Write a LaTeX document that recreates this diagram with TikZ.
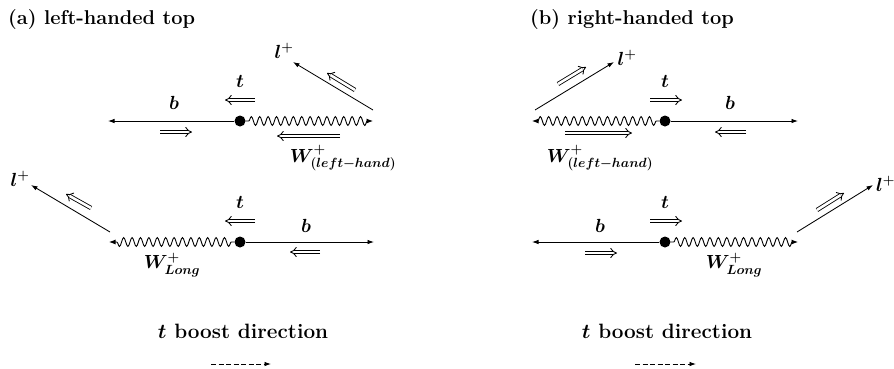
\documentclass[tikz,border=0pt]{standalone}
\usepackage{fix-cm}
\usetikzlibrary{arrows.meta,decorations.pathmorphing}
\begin{document}
\begin{tikzpicture}[x=1pt,y=-1pt,
  ttl/.style={font=\fontsize{20}{23}\selectfont\bfseries\boldmath, inner sep=0pt},
  txt/.style={font=\fontsize{20.74}{24}\selectfont\bfseries\boldmath, inner sep=0pt},
  lab/.style={font=\fontsize{19}{22}\selectfont\boldmath, inner sep=0pt},
  vtx/.style={circle, fill=black, inner sep=0pt, minimum size=11pt},
  mom/.style={line width=0.85pt, -{Latex[length=6.5pt,width=4.5pt]}},
  wav/.style={line width=0.9pt, decorate, decoration={snake, amplitude=4.4pt, segment length=8.4pt, pre length=3pt, post length=4pt}, -{Latex[length=6.5pt,width=5pt]}},
  hel/.style={double, double distance=2.6pt, line width=0.85pt, -{Implies}},
  boost/.style={dashed, dash pattern=on 5pt off 2.5pt, line width=0.85pt, -{Latex[length=6.5pt,width=4.5pt]}}]
\useasboundingbox (0,0) rectangle (894,368);

% ---------- titles ----------
\node[ttl, anchor=west] (ta) at (8,20) {(a) left-handed top};
\node[ttl, anchor=west] (tb) at (530,20) {(b) right-handed top};

% ========== panel (a), top row ==========
\node[vtx] (a1) at (240,121) {};
\coordinate (a1b) at (108,121);
\coordinate (a1w) at (373,121);
\coordinate (a1l) at (293,62);
\draw[mom] (a1) -- (a1b);
\draw[wav] (a1) -- (a1w);
\coordinate (a1s) at (373,110);
\draw[mom] (a1s) -- (a1l);
\node[lab] (a1lt) at (284,51) {$l^{+}$};
\node[lab] (a1t) at (240,81) {$t$};
\node[lab] (a1bt) at (174,103) {$b$};
\node[lab] (a1W) at (343,158) {$W^{+}_{(left-hand)}$};
\coordinate (h1a) at (255,100); \coordinate (h1b) at (225,100);
\draw[hel] (h1a) -- (h1b);
\coordinate (h2a) at (160,132); \coordinate (h2b) at (192,132);
\draw[hel] (h2a) -- (h2b);
\coordinate (h3a) at (340,136); \coordinate (h3b) at (277,136);
\draw[hel] (h3a) -- (h3b);
\coordinate (h4a) at (355,90); \coordinate (h4b) at (327,73);
\draw[hel] (h4a) -- (h4b);

% ========== panel (a), bottom row ==========
\node[vtx] (a2) at (240,242) {};
\coordinate (a2b) at (374,242);
\coordinate (a2w) at (109,242);
\coordinate (a2s) at (110,232);
\coordinate (a2l) at (31,185);
\draw[mom] (a2) -- (a2b);
\draw[wav] (a2) -- (a2w);
\draw[mom] (a2s) -- (a2l);
\node[lab] (a2lt) at (20,179) {$l^{+}$};
\node[lab] (a2t) at (240,202) {$t$};
\node[lab] (a2bt) at (306,226) {$b$};
\node[lab] (a2W) at (172,265) {$W^{+}_{Long}$};
\coordinate (h5a) at (255,221); \coordinate (h5b) at (225,221);
\draw[hel] (h5a) -- (h5b);
\coordinate (h6a) at (320,252); \coordinate (h6b) at (290,252);
\draw[hel] (h6a) -- (h6b);
\coordinate (h7a) at (91,208); \coordinate (h7b) at (66,194);
\draw[hel] (h7a) -- (h7b);

\node[txt] (ba) at (243,331) {$t$ boost direction};
\coordinate (da1) at (211,364); \coordinate (da2) at (271,364);
\draw[boost] (da1) -- (da2);

% ========== panel (b), top row ==========
\node[vtx] (b1) at (665,121) {};
\coordinate (b1b) at (798,121);
\coordinate (b1w) at (532,121);
\coordinate (b1s) at (535,110);
\coordinate (b1l) at (614,62);
\draw[mom] (b1) -- (b1b);
\draw[wav] (b1) -- (b1w);
\draw[mom] (b1s) -- (b1l);
\node[lab] (b1lt) at (627,58) {$l^{+}$};
\node[lab] (b1t) at (665,81) {$t$};
\node[lab] (b1bt) at (730,103) {$b$};
\node[lab] (b1W) at (600,158) {$W^{+}_{(left-hand)}$};
\coordinate (h8a) at (650,100); \coordinate (h8b) at (682,100);
\draw[hel] (h8a) -- (h8b);
\coordinate (h9a) at (746,132); \coordinate (h9b) at (715,132);
\draw[hel] (h9a) -- (h9b);
\coordinate (h10a) at (565,133); \coordinate (h10b) at (632,133);
\draw[hel] (h10a) -- (h10b);
\coordinate (h11a) at (558,84); \coordinate (h11b) at (586,67);
\draw[hel] (h11a) -- (h11b);

% ========== panel (b), bottom row ==========
\node[vtx] (b2) at (665,242) {};
\coordinate (b2b) at (532,242);
\coordinate (b2w) at (798,242);
\coordinate (b2s) at (797,232);
\coordinate (b2l) at (873,185);
\draw[mom] (b2) -- (b2b);
\draw[wav] (b2) -- (b2w);
\draw[mom] (b2s) -- (b2l);
\node[lab, anchor=west] (b2lt) at (876,184) {$l^{+}$};
\node[lab] (b2t) at (665,202) {$t$};
\node[lab] (b2bt) at (600,226) {$b$};
\node[lab] (b2W) at (734,265) {$W^{+}_{Long}$};
\coordinate (h12a) at (650,221); \coordinate (h12b) at (682,221);
\draw[hel] (h12a) -- (h12b);
\coordinate (h13a) at (585,253); \coordinate (h13b) at (617,253);
\draw[hel] (h13a) -- (h13b);
\coordinate (h14a) at (817,210); \coordinate (h14b) at (844,193);
\draw[hel] (h14a) -- (h14b);

\node[txt] (bb) at (667,331) {$t$ boost direction};
\coordinate (db1) at (635,364); \coordinate (db2) at (696,364);
\draw[boost] (db1) -- (db2);
\end{tikzpicture}
\end{document}
